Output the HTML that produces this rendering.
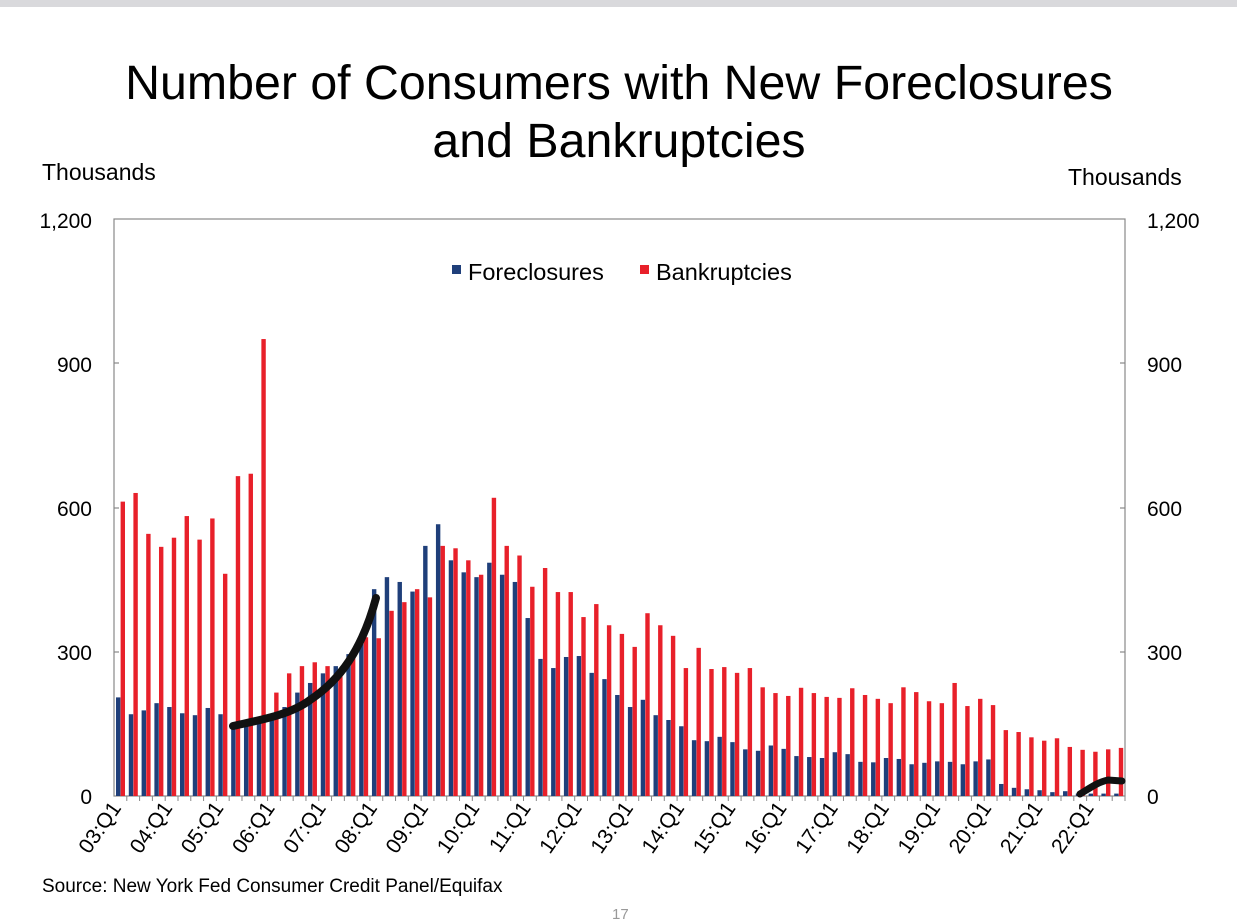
<!DOCTYPE html>
<html><head><meta charset="utf-8"><style>
html,body{margin:0;padding:0;background:#fff;}
svg{display:block;font-family:"Liberation Sans",Arial,sans-serif;}
</style></head><body>
<svg id="s" width="1237" height="921" viewBox="0 0 1237 921" xmlns="http://www.w3.org/2000/svg">
<rect x="0" y="0" width="1237" height="921" fill="#fff"/>
<rect x="0" y="0" width="1237" height="7" fill="#d9d9dc"/>
<text x="619" y="99" font-size="48.3" text-anchor="middle" fill="#000">Number of Consumers with New Foreclosures</text>
<text x="619" y="157" font-size="48.3" text-anchor="middle" fill="#000">and Bankruptcies</text>
<text x="42" y="180" font-size="23">Thousands</text>
<text x="1068" y="185" font-size="23">Thousands</text>
<g font-size="21" fill="#000">
<text x="92" y="228" text-anchor="end">1,200</text>
<text x="92" y="372" text-anchor="end">900</text>
<text x="92" y="516" text-anchor="end">600</text>
<text x="92" y="660" text-anchor="end">300</text>
<text x="92" y="804" text-anchor="end">0</text>
<text x="1147" y="228">1,200</text>
<text x="1147" y="372">900</text>
<text x="1147" y="516">600</text>
<text x="1147" y="660">300</text>
<text x="1147" y="804">0</text>
</g>
<rect x="114" y="219" width="1011" height="577" fill="none" stroke="#888" stroke-width="1.2"/>
<g stroke="#888" stroke-width="1.2">
<line x1="114" y1="363" x2="119" y2="363"/><line x1="114" y1="508" x2="119" y2="508"/><line x1="114" y1="652" x2="119" y2="652"/>
<line x1="1120" y1="363" x2="1125" y2="363"/><line x1="1120" y1="508" x2="1125" y2="508"/><line x1="1120" y1="652" x2="1125" y2="652"/>
</g>
<g id="bars"></g>
<g id="ticks" stroke="#888" stroke-width="1"></g>
<g id="xl" font-size="21"></g>
<rect x="452" y="265" width="9" height="9" fill="#1f3f7a"/>
<text x="468" y="280" font-size="23.5">Foreclosures</text>
<rect x="640" y="265" width="9" height="9" fill="#e8202a"/>
<text x="656" y="280" font-size="23.5">Bankruptcies</text>
<path d="M233 726 C260 720 290 715 310 700 C340 680 362 650 376 598" fill="none" stroke="#111" stroke-width="8" stroke-linecap="round"/>
<path d="M1080 794 C1090 788 1098 782 1108 780 L1122 781" fill="none" stroke="#111" stroke-width="7" stroke-linecap="round"/>
<text x="42" y="892" font-size="19">Source: New York Fed Consumer Credit Panel/Equifax</text>
<text x="612" y="919" font-size="15" fill="#999">17</text>
</svg>
<script>
var F=[205,170,178,193,185,172,168,183,170,150,155,160,170,185,215,235,255,270,295,330,430,455,445,425,520,565,490,465,455,485,460,445,370,285,266,289,291,256,243,210,185,200,168,158,145,116,114,123,112,97,94,105,98,83,81,79,91,87,71,70,79,77,66,69,72,71,66,72,76,25,17,14,12,8,10,5,5,5,5];
var B=[612,630,545,518,537,582,533,577,462,665,670,950,215,255,270,278,270,260,295,330,328,385,403,430,413,520,515,490,460,620,520,500,435,474,424,424,372,399,355,337,310,380,355,333,266,308,264,268,256,266,226,214,208,225,214,206,204,224,210,202,193,226,216,197,193,235,187,202,189,137,133,122,115,120,102,96,92,97,100];
var ns="http://www.w3.org/2000/svg",w=1011/79,k=0.481;
function el(p,t,a,tx){var e=document.createElementNS(ns,t);for(var q in a)e.setAttribute(q,a[q]);if(tx)e.textContent=tx;document.getElementById(p).appendChild(e);}
for(var i=0;i<79;i++){var x=114+i*w;
el("bars","rect",{x:x+2,y:796-F[i]*k,width:4.4,height:F[i]*k,fill:"#1f3f7a"});
el("bars","rect",{x:x+6.6,y:796-B[i]*k,width:4.4,height:B[i]*k,fill:"#e8202a"});
el("ticks","line",{x1:x+w,y1:796,x2:x+w,y2:801});}
var L=["03:Q1","04:Q1","05:Q1","06:Q1","07:Q1","08:Q1","09:Q1","10:Q1","11:Q1","12:Q1","13:Q1","14:Q1","15:Q1","16:Q1","17:Q1","18:Q1","19:Q1","20:Q1","21:Q1","22:Q1"];
for(var j=0;j<20;j++){var xx=114+4*j*w+8;el("xl","text",{x:xx,y:808,"text-anchor":"end",transform:"rotate(-55 "+xx+" 808)"},L[j]);}
</script>
</body></html>
